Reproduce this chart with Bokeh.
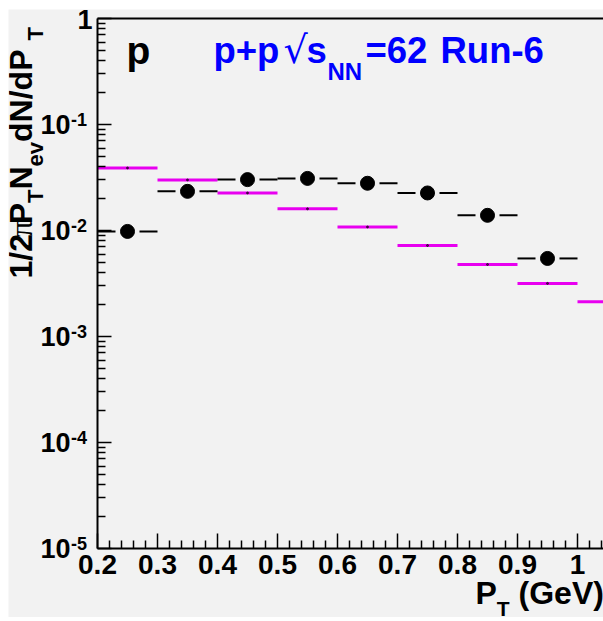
import math
from bokeh.plotting import figure
from bokeh.models import Range1d, FixedTicker, LinearAxis
from bokeh.core.properties import value
from bokeh.embed import file_html
from bokeh.resources import INLINE

# ---------------- data ----------------
pt_centers = [0.25, 0.35, 0.45, 0.55, 0.65, 0.75, 0.85, 0.95]
pt_half = [0.05, 0.05, 0.05, 0.05, 0.05, 0.05, 0.05, 0.05]
data_yield = [0.0098, 0.0234, 0.0302, 0.0310, 0.0279, 0.0226, 0.0139, 0.00545]

ref_centers = [0.25, 0.35, 0.45, 0.55, 0.65, 0.75, 0.85, 0.95, 1.05]
ref_half = [0.05, 0.05, 0.05, 0.05, 0.05, 0.05, 0.05, 0.05, 0.05]
ref_yield = [0.0389, 0.0300, 0.0226, 0.0160, 0.0108, 0.00722, 0.00478, 0.00317, 0.00213]

x_ticks = [0.2, 0.3, 0.4, 0.5, 0.6, 0.7, 0.8, 0.9, 1.0]
x_tick_labels = ["0.2", "0.3", "0.4", "0.5", "0.6", "0.7", "0.8", "0.9", "1"]
y_ticks = [1e-5, 1e-4, 1e-3, 1e-2, 1e-1, 1.0]
y_tick_bases = ["10", "10", "10", "10", "10", "1"]
y_tick_exps = ["-5", "-4", "-3", "-2", "-1", ""]

# ---------------- layout / style ----------------
BG = "#f2f2f2"
MAG = "#e800f0"
BLUE = "#0000ff"
FONT = "Liberation Sans"
FIG_W, FIG_H = 595, 608
PX_X = 600.0           # pixels per unit of pT
PX_DEC = 106.0         # pixels per decade
LEFT, TOP, BOTTOM = 89, 9, 69   # axes box position inside the canvas
X0, Y0, Y1 = 0.2, 1e-5, 1.0
X1 = X0 + (FIG_W - LEFT) / PX_X
xr = Range1d(X0 - LEFT / PX_X, X1)
yr = Range1d(10 ** (math.log10(Y0) - BOTTOM / PX_DEC), 10 ** (math.log10(Y1) + TOP / PX_DEC))

p = figure(width=FIG_W, height=FIG_H, x_range=xr, y_range=yr,
           y_axis_type="log", output_backend="svg", toolbar_location=None,
           min_border=0, background_fill_color=BG, border_fill_color=BG,
           outline_line_color=None, margin=(9, 0, 4, 8))
p.grid.visible = False

x_minor = [round(0.2 + 0.02 * k, 4) for k in range(1, 43) if k % 5 != 0]
y_minor = [m * t for t in y_ticks[:-1] for m in range(2, 10)]

xa = p.xaxis[0]
xa.fixed_location = Y0
xa.bounds = (X0, X1)
xa.ticker = FixedTicker(ticks=x_ticks, minor_ticks=x_minor)
xa.major_label_overrides = {t: s for t, s in zip(x_ticks, x_tick_labels)}
xa.axis_line_width = 2
xa.major_tick_in, xa.major_tick_out = 15, 0
xa.minor_tick_in, xa.minor_tick_out = 8, 0
xa.major_tick_line_width = 1.5
xa.minor_tick_line_width = 1.5
xa.major_label_standoff = 6
xa.major_label_text_font = FONT
xa.major_label_text_font_style = "bold"
xa.major_label_text_font_size = "28px"
xa.major_label_text_color = "black"

ya = p.yaxis[0]
ya.fixed_location = X0
ya.bounds = (Y0, Y1)
ya.ticker = FixedTicker(ticks=y_ticks, minor_ticks=y_minor)
ya.major_label_overrides = {t: "" for t in y_ticks}
ya.axis_line_width = 2
ya.major_tick_in, ya.major_tick_out = 14, 0
ya.minor_tick_in, ya.minor_tick_out = 8, 0
ya.major_tick_line_width = 1.5
ya.minor_tick_line_width = 1.5
ya.major_label_standoff = 0

top = LinearAxis(fixed_location=Y1, bounds=(X0, X1), ticker=FixedTicker(ticks=[]),
                 axis_line_width=2, major_tick_in=0, major_tick_out=0,
                 minor_tick_in=0, minor_tick_out=0)
p.add_layout(top, "above")

# ---------------- marks ----------------
# reference histogram (magenta bins)
p.segment(x0=[c - h for c, h in zip(ref_centers, ref_half)], y0=ref_yield,
          x1=[c + h for c, h in zip(ref_centers, ref_half)], y1=ref_yield,
          line_color=MAG, line_width=3)
p.scatter(ref_centers, ref_yield, size=2, color="black", alpha=0.6)

# data points with horizontal bin bars (gap around the marker)
gap = 0.02
p.segment(x0=[c - h for c, h in zip(pt_centers, pt_half)], y0=data_yield,
          x1=[c - gap for c in pt_centers], y1=data_yield, line_color="black", line_width=2)
p.segment(x0=[c + gap for c in pt_centers], y0=data_yield,
          x1=[c + h for c, h in zip(pt_centers, pt_half)], y1=data_yield, line_color="black", line_width=2)
p.scatter(pt_centers, data_yield, size=14, color="black")

K = 0.38   # baseline correction (fraction of font size)


def txt(s, dx, dy, size, color="black", font=FONT, style="bold", angle=0.0,
        align="left", x=X0, y=Y0):
    """dx, dy: pixel offsets of the text baseline from the anchor (dy positive = up)."""
    dx = dx - math.sin(angle) * K * size
    dy = dy + math.cos(angle) * K * size
    p.text(x=[x], y=[y], text=[s], x_offset=dx, y_offset=-dy, text_font=value(font),
           text_font_size=f"{size}px", text_font_style=style, text_color=color,
           angle=angle, text_align=align, text_baseline="alphabetic")


# y tick labels (10 with superscript exponent)
for v, b, e in zip(y_ticks, y_tick_bases, y_tick_exps):
    if e:
        txt(b, -27, -10.5, 27, align="right", y=v)
        txt(e, -26.5, -2, 18, align="left", y=v)
    else:
        txt(b, -5, -11, 27, align="right", y=v)

# widths of Helvetica/Arial bold glyphs (per 1000 em)
W = {'1': 556, '/': 278, '2': 556, 'P': 667, 'T': 611, 'N': 722, 'e': 556, 'v': 556,
     ' ': 278, 'd': 611, '(': 333, 'G': 778, 'V': 667, ')': 333}


def adv(t, size):
    return sum(W[c] for c in t) * size / 1000.0


# y axis title, rotated, read bottom to top
ytitle_runs = [("1/2", 32, 0, FONT, "bold", 0),
               ("\u03c0", 32, 0, "Liberation Serif", "normal", -3),
               ("P", 32, 0, FONT, "bold", -2),
               ("T", 22, 10, FONT, "bold", 0),
               ("N", 32, 0, FONT, "bold", 0),
               ("ev", 22, 10, FONT, "bold", 0),
               (" dN/dP", 32, 0, FONT, "bold", 0),
               ("T", 22, 10, FONT, "bold", 0)]
pos = 270
for t, s, shift, f, st, kern in ytitle_runs:
    pos += kern
    txt(t, -64 + shift, pos, s, font=f, style=st, angle=math.pi / 2)
    pos += 0.46 * s if t == "\u03c0" else adv(t, s)

# x axis title
xt = 378
txt("P", xt, -57, 32)
txt("T", xt + adv("P", 32), -68, 21)
txt("(GeV)", xt + adv("P", 32) + adv("T", 21) + adv(" ", 32), -57, 32)

# in-plot titles
txt("p", 29, -47, 39, y=Y1)
txt("p+p", 116, -46, 36.5, color=BLUE, y=Y1)
txt("\u221a", 186, -46, 38, color=BLUE, font="DejaVu Sans", style="normal", y=Y1)
txt("s", 209, -46, 36.5, color=BLUE, y=Y1)
txt("NN", 230, -62, 24, color=BLUE, y=Y1)
txt("=62", 268, -46, 36.5, color=BLUE, y=Y1)
txt("Run-6", 343, -46, 36.5, color=BLUE, y=Y1)

open("out.html", "w").write(file_html(p, INLINE))
